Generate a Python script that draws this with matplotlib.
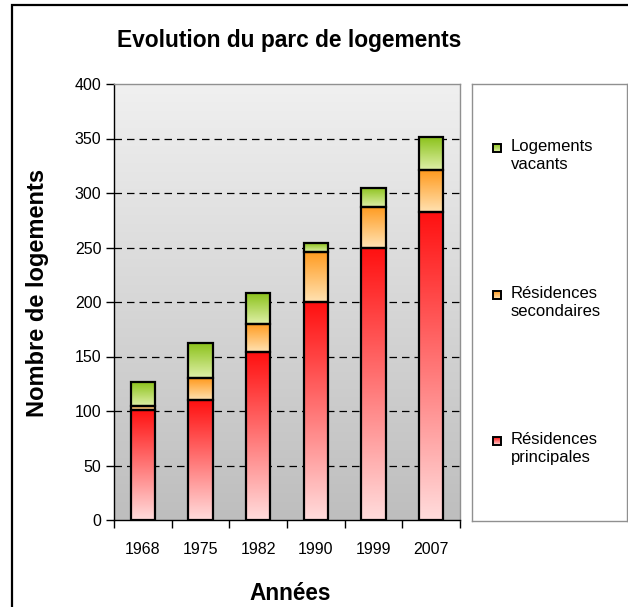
import numpy as np
import matplotlib
matplotlib.use("Agg")
import matplotlib.pyplot as plt
from matplotlib.patches import Rectangle
from matplotlib.colors import LinearSegmentedColormap

plt.rcParams['font.family'] = ['Liberation Sans', 'DejaVu Sans']

years = ["1968", "1975", "1982", "1990", "1999", "2007"]
principales = [101, 110, 154, 200, 250, 283]
secondaires = [4, 20, 26, 46, 37, 38]
vacants = [22, 32, 28, 8, 18, 30]

series = [
    ("Résidences principales", principales, ("#FF1010", "#FFDCDC")),
    ("Résidences secondaires", secondaires, ("#FF9A1E", "#FFE2B2")),
    ("Logements vacants", vacants, ("#8CC21C", "#DFF0A8")),
]
legend_labels = ["Logements\nvacants", "Résidences\nsecondaires", "Résidences\nprincipales"]

W, H = 628, 607
fig = plt.figure(figsize=(W / 100, H / 100), dpi=100)
fig.patch.set_facecolor("white")

def fx(px):
    return px / W

def fy(py):
    return 1 - py / H

ax = fig.add_axes([fx(114), fy(520), fx(460) - fx(114), fy(84) - fy(520)])

n = len(years)
xs = np.arange(n)
bw = 0.42
ax.set_xlim(-0.5, n - 0.5)
ax.set_ylim(0, 400)

# background gradient
bg = np.linspace(0, 1, 256).reshape(-1, 1)
bg_cmap = LinearSegmentedColormap.from_list("bg", ["#BEBEBE", "#F0F0F0"])
ax.imshow(bg, extent=[0, 1, 0, 1], transform=ax.transAxes, cmap=bg_cmap,
          aspect="auto", origin="lower", zorder=0)

# gridlines
for v in range(50, 400, 50):
    ax.axhline(v, color="black", lw=0.9, ls=(0, (6, 4)), zorder=1)

grad = np.linspace(0, 1, 256).reshape(-1, 1)
bottoms = np.zeros(n)
for name, vals, (ctop, cbot) in series:
    cmap = LinearSegmentedColormap.from_list(name, [cbot, ctop])
    for i, v in enumerate(vals):
        x0 = xs[i] - bw / 2
        b = bottoms[i]
        ax.imshow(grad, extent=[x0, x0 + bw, b, b + v], cmap=cmap,
                  aspect="auto", origin="lower", zorder=2)
        ax.add_patch(Rectangle((x0, b), bw, v, fill=False, ec="black",
                               lw=1.6, zorder=3))
    bottoms = bottoms + np.array(vals)

ax.set_xlim(-0.5, n - 0.5)
ax.set_ylim(0, 400)
ax.set_aspect("auto")

# axes styling
for s in ["top", "right"]:
    ax.spines[s].set_color("#909090")
    ax.spines[s].set_linewidth(1.0)
for s in ["left", "bottom"]:
    ax.spines[s].set_color("black")
    ax.spines[s].set_linewidth(1.0)

ax.set_yticks(range(0, 401, 50))
ax.tick_params(axis="y", length=6, width=1, direction="out", labelsize=11.5, pad=3)
ax.set_xticks(np.arange(-0.5, n, 1.0))
ax.set_xticklabels([])
ax.set_xticks(xs, minor=True)
ax.set_xticklabels(years, minor=True)
ax.tick_params(axis="x", which="major", length=6, width=1, direction="out")
ax.tick_params(axis="x", which="minor", length=0, labelsize=11.5, pad=16)

fig.text(fx(289), fy(40), "Evolution du parc de logements", ha="center",
         va="center", fontsize=16.4, fontweight="bold")
fig.text(fx(38), fy(293), "Nombre de logements", ha="center", va="center",
         rotation=90, fontsize=17, fontweight="bold")
fig.text(fx(290), fy(594), "Années", ha="center", va="center",
         fontsize=16.3, fontweight="bold")

# legend box
lax = fig.add_axes([fx(472), fy(521), fx(627) - fx(472), fy(84) - fy(521)])
lax.set_xlim(472, 627)
lax.set_ylim(521, 84)
lax.set_xticks([])
lax.set_yticks([])
for s in lax.spines.values():
    s.set_color("#909090")
    s.set_linewidth(1.0)
leg_series = [series[2], series[1], series[0]]
leg_y = [148, 295, 441]
for (name, vals, (ctop, cbot)), yy, lab in zip(leg_series, leg_y, legend_labels):
    cmap = LinearSegmentedColormap.from_list(name + "L", [cbot, ctop])
    lax.imshow(grad, extent=[493, 501, yy + 4, yy - 4], cmap=cmap,
               aspect="auto", origin="lower", zorder=2)
    lax.add_patch(Rectangle((493, yy - 4), 8, 8, fill=False, ec="black",
                            lw=1.4, zorder=3))
    lax.text(511, yy - 9, lab, ha="left", va="top", fontsize=12,
             linespacing=1.25)
lax.set_xlim(472, 627)
lax.set_ylim(521, 84)

# outer frame
fig.add_artist(Rectangle((fx(12), fy(620)), fx(700) - fx(12), fy(5) - fy(620),
                         transform=fig.transFigure, fill=False, ec="black",
                         lw=1.6))

fig.savefig("out.png", dpi=100)
